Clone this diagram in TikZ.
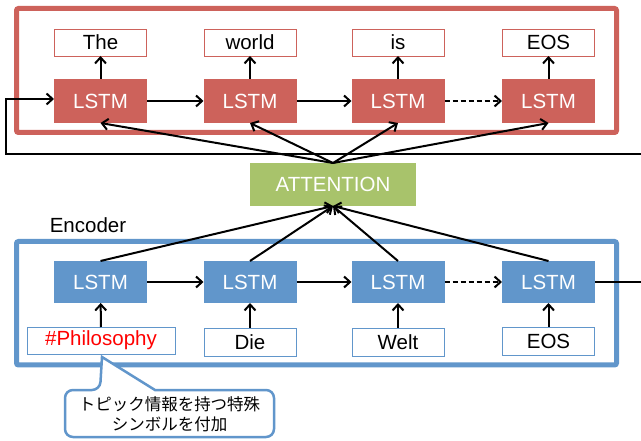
\documentclass[tikz,border=0pt]{standalone}
\usepackage        {fontspec}
\usepackage        {tikz    }
\usetikzlibrary    {arrows.meta}
\setmainfont{Liberation Sans}
\newfontfamily\jpfont{Noto Sans CJK JP}
\definecolor{decred}{HTML}{CD625B}
\definecolor{encblue}{HTML}{6196CB}
\definecolor{attgreen}{HTML}{A8C36B}

\begin{document}
\begin{tikzpicture}
  [x=1pt,y=-1pt,font=\fontsize{20.5}{22}\selectfont,
   every node/.style={inner sep=0pt,outer sep=0pt},
   lstmdec/.style={fill=decred,text=white,minimum width=93pt,minimum height=44pt},
   lstmenc/.style={fill=encblue,text=white,minimum width=93pt,minimum height=42pt},
   worddec/.style={draw=decred,fill=white,line width=.8pt,minimum width=92pt,minimum height=27pt},
   wordenc/.style={draw=encblue,fill=white,line width=.8pt,minimum width=92pt,minimum height=28pt},
   link/.style={line width=2pt,-{Straight Barb[length=6pt,width=11pt]}}]
  \useasboundingbox (0,0) rectangle (641,441);

  % frames
  \draw[decred,line width=5pt,rounded corners=2pt] (16.5,8.5) rectangle (616.5,132.5);
  \draw[encblue,line width=5pt,rounded corners=2pt] (16.5,241.5) rectangle (616.5,365);
  \node (enclabel) at (88,225) {Encoder};

  % decoder
  \node[worddec] (o1) at (100.5,42.5) {The};
  \node[worddec] (o2) at (250,42.5)   {world};
  \node[worddec] (o3) at (398,42.5)   {is};
  \node[worddec] (o4) at (548.5,42.5) {EOS};
  \node[lstmdec] (d1) at (100.5,101) {LSTM};
  \node[lstmdec] (d2) at (250,101)   {LSTM};
  \node[lstmdec] (d3) at (398,101)   {LSTM};
  \node[lstmdec] (d4) at (548.5,101) {LSTM};

  \node[fill=attgreen,text=white,minimum width=166pt,minimum height=43pt] (att) at (333,184.5) {ATTENTION};

  % encoder
  \node[lstmenc] (e1) at (100.5,282) {LSTM};
  \node[lstmenc] (e2) at (250,282)   {LSTM};
  \node[lstmenc] (e3) at (398,282)   {LSTM};
  \node[lstmenc] (e4) at (548.5,282) {LSTM};
  \node[wordenc,minimum width=148pt,minimum height=27pt,text=red] (i1) at (101,340.5) {\#Philosophy};
  \node[wordenc] (i2) at (250,342)   {Die};
  \node[wordenc] (i3) at (398,342)   {Welt};
  \node[wordenc] (i4) at (548.5,341) {EOS};

  \coordinate (loopa) at (660,282);
  \coordinate (loopb) at (660,154);
  \coordinate (loopc) at (6,154);
  \coordinate (loopd) at (6,99);

    \draw[link] (d1) -- (d2);
    \draw[link] (d2) -- (d3);
    \draw[link,dashed,dash pattern=on 5pt off 3pt] (d3) -- (d4);
    \draw[link] (e1) -- (e2);
    \draw[link] (e2) -- (e3);
    \draw[link,dashed,dash pattern=on 5pt off 3pt] (e3) -- (e4);

    \draw[link] (d1) -- (o1);
    \draw[link] (d2) -- (o2);
    \draw[link] (d3) -- (o3);
    \draw[link] (d4) -- (o4);
    \draw[link] (i1) -- (e1);
    \draw[link] (i2) -- (e2);
    \draw[link] (i3) -- (e3);
    \draw[link] (i4) -- (e4);

    \draw[link] (att.north) -- (d1.south);
    \draw[link] (att.north) -- (d2.south);
    \draw[link] (att.north) -- (d3.south);
    \draw[link] (att.north) -- (d4.south);
    \draw[link] (e1.north) -- (att.south);
    \draw[link] (e2.north) -- (att.south);
    \draw[link] (e3.north) -- (att.south);
    \draw[link] (e4.north) -- (att.south);

    \draw[link] (e4.east) -- (loopa) -- (loopb) -- (loopc) -- (loopd) -- (d1.west |- loopd);

  % callout
  \draw[encblue,line width=2.5pt,fill=white,rounded corners=8pt]
    (65,390) -- (100,390) [sharp corners] -- (102,357) -- (155,390) [rounded corners=8pt]
    -- (274,390) -- (274,437) -- (65,437) -- cycle;
  \node[align=center,font=\jpfont\fontsize{16.5}{20}\selectfont] (note) at (169.5,414)
    {トピック情報を持つ特殊\\シンボルを付加};
\end{tikzpicture}
\end{document}
